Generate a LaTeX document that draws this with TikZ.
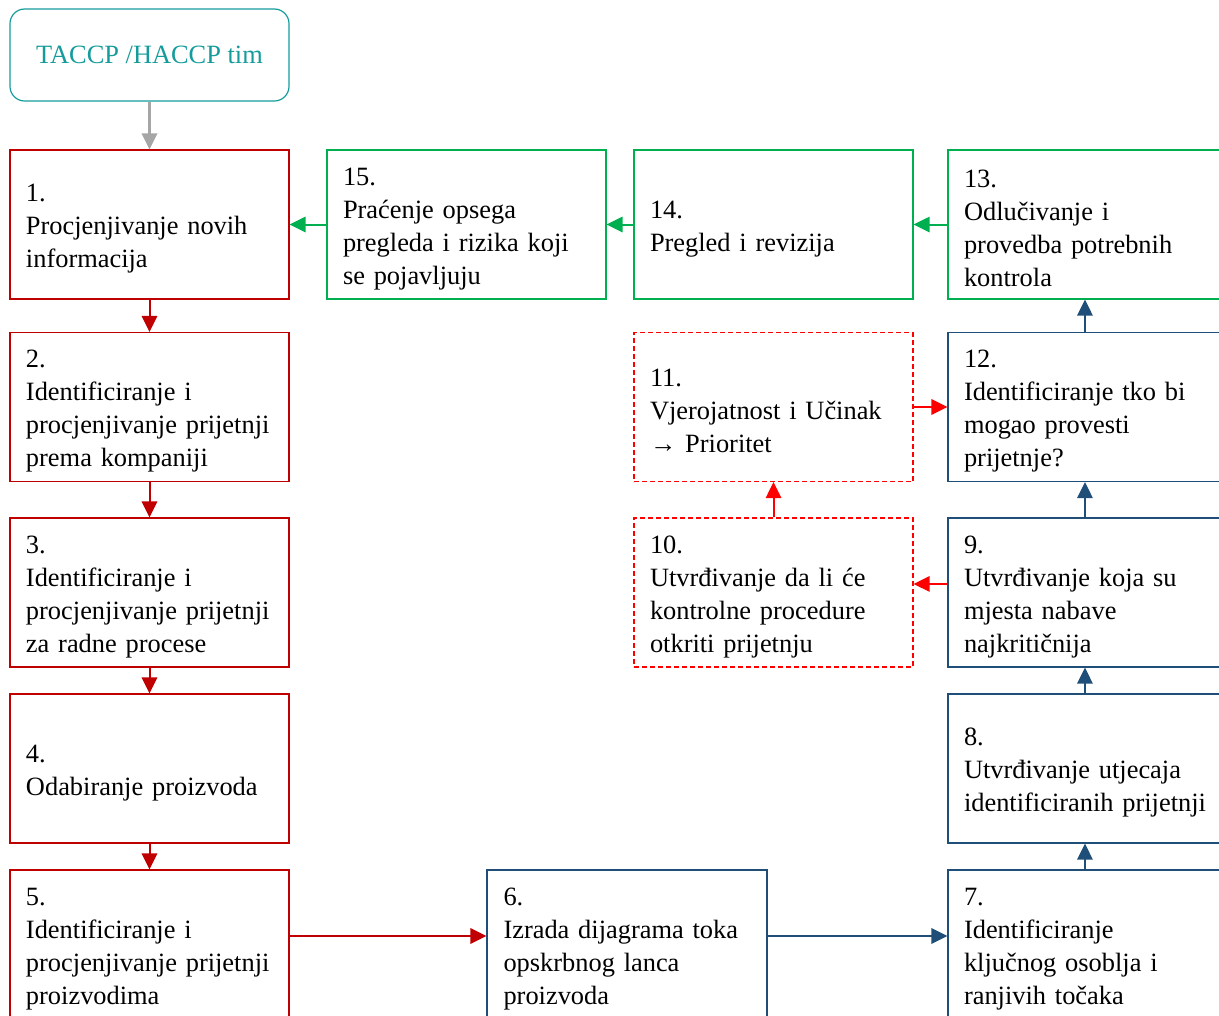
\documentclass[tikz,border=0pt]{standalone}
\usepackage{fontspec}
\setmainfont{Liberation Serif}
\usetikzlibrary{arrows.meta}
\definecolor{tealc}{RGB}{20,155,155}
\definecolor{dred}{RGB}{192,0,0}
\definecolor{bred}{RGB}{255,0,0}
\definecolor{greenc}{RGB}{0,176,80}
\definecolor{bluec}{RGB}{31,78,121}
\definecolor{grayc}{RGB}{166,166,166}
\newcommand\myfirststrut{\rule{0pt}{19.5pt}}
\begin{document}
\begin{tikzpicture}[x=0.75pt,y=-0.75pt,
  box/.style={draw, line width=0.9pt, minimum width=209.25pt, minimum height=111.75pt,
    text width=185.25pt, inner xsep=12pt, inner ysep=0pt, align=left,
    font=\fontsize{19.8}{24.75}\selectfont, anchor=center},
  redbox/.style={box, draw=dred},
  dashbox/.style={box, draw=bred, dash pattern=on 3.75pt off 2.25pt},
  greenbox/.style={box, draw=greenc},
  bluebox/.style={box, draw=bluec},
  arr/.style={line width=1.5pt, -{Triangle[length=12pt,width=11.5pt]}},
]
\useasboundingbox (0,0) rectangle (1219,1015);
\clip (0,0) rectangle (1219,1015);

\node[draw=tealc, line width=0.9pt, rounded corners=11pt, minimum width=209.25pt,
  minimum height=69pt, text=tealc, font=\fontsize{19.8}{24.75}\selectfont] (t) at (149.5,55) {TACCP /HACCP tim};

\node[redbox] (n1) at (149.5,224.5) {\myfirststrut 1.\\Procjenjivanje novih\\informacija};
\node[redbox] (n2) at (149.5,407) {\myfirststrut 2.\\Identificiranje i\\procjenjivanje prijetnji\\prema kompaniji};
\node[redbox] (n3) at (149.5,592.5) {\myfirststrut 3.\\Identificiranje i\\procjenjivanje prijetnji\\za radne procese};
\node[redbox] (n4) at (149.5,768.5) {\myfirststrut 4.\\Odabiranje proizvoda};
\node[redbox] (n5) at (149.5,944.5) {\myfirststrut 5.\\Identificiranje i\\procjenjivanje prijetnji\\proizvodima};
\node[bluebox, minimum width=210pt] (n6) at (627,944.5) {\myfirststrut 6.\\Izrada dijagrama toka\\opskrbnog lanca\\proizvoda};
\node[bluebox] (n7) at (1087.5,944.5) {\myfirststrut 7.\\Identificiranje\\ključnog osoblja i\\ranjivih točaka};
\node[bluebox] (n8) at (1087.5,768.5) {\myfirststrut 8.\\Utvrđivanje utjecaja\\identificiranih prijetnji};
\node[bluebox] (n9) at (1087.5,592.5) {\myfirststrut 9.\\Utvrđivanje koja su\\mjesta nabave\\najkritičnija};
\node[dashbox] (n10) at (773.5,592.5) {\myfirststrut 10.\\Utvrđivanje da li će\\kontrolne procedure\\otkriti prijetnju};
\node[dashbox] (n11) at (773.5,407) {\myfirststrut 11.\\Vjerojatnost i Učinak\\→ Prioritet};
\node[bluebox] (n12) at (1087.5,407) {\myfirststrut 12.\\Identificiranje tko bi\\mogao provesti\\prijetnje?};
\node[greenbox] (n13) at (1087.5,224.5) {\myfirststrut 13.\\Odlučivanje i\\provedba potrebnih\\kontrola};
\node[greenbox] (n14) at (773.5,224.5) {\myfirststrut 14.\\Pregled i revizija};
\node[greenbox] (n15) at (466.5,224.5) {\myfirststrut 15.\\Praćenje opsega\\pregleda i rizika koji\\se pojavljuju};

\draw[arr, grayc, line width=2pt] (t.south) -- (n1.north);
\draw[arr, dred] (n1.south) -- (n2.north);
\draw[arr, dred] (n2.south) -- (n3.north);
\draw[arr, dred] (n3.south) -- (n4.north);
\draw[arr, dred] (n4.south) -- (n5.north);
\draw[arr, dred] ([yshift=6.4pt]n5.east) -- ([yshift=6.4pt]n6.west);
\draw[arr, bluec] ([yshift=6.4pt]n6.east) -- ([yshift=6.4pt]n7.west);
\draw[arr, bluec] ([xshift=-1.9pt]n7.north) -- ([xshift=-1.9pt]n8.south);
\draw[arr, bluec] ([xshift=-1.9pt]n8.north) -- ([xshift=-1.9pt]n9.south);
\draw[arr, bluec] ([xshift=-1.9pt]n9.north) -- ([xshift=-1.9pt]n12.south);
\draw[arr, bluec] ([xshift=-1.9pt]n12.north) -- ([xshift=-1.9pt]n13.south);
\draw[arr, greenc] (n13.west) -- (n14.east);
\draw[arr, greenc] (n14.west) -- (n15.east);
\draw[arr, greenc] (n15.west) -- (n1.east);
\draw[arr, bred] ([yshift=6.4pt]n9.west) -- ([yshift=6.4pt]n10.east);
\draw[arr, bred] (n10.north) -- (n11.south);
\draw[arr, bred] (n11.east) -- (n12.west);
\end{tikzpicture}
\end{document}
